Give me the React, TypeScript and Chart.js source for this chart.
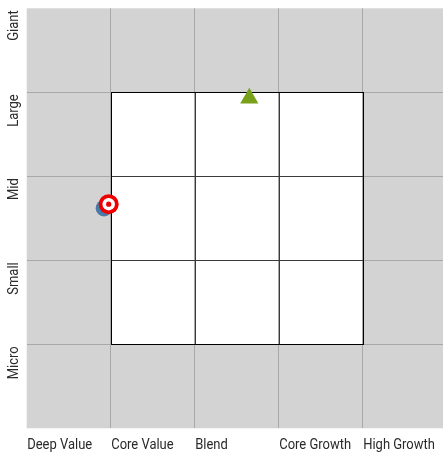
import React, { useEffect, useRef } from "react";
import { Chart, registerables } from "chart.js";

Chart.register(...registerables);

const styleLabels = ["Deep Value", "Core Value", "Blend", "Core Growth", "High Growth"];
const sizeLabels = ["Micro", "Small", "Mid", "Large", "Giant"];

// fund positions on the style box (x: style, y: size), in cell units
const benchmarkPoint = [{ x: 0.92, y: 2.62 }];
const fundPoint = [{ x: 0.976, y: 2.668 }];
const peerPoint = [{ x: 2.65, y: 3.93 }];

const FONT = "Roboto, 'Liberation Sans', sans-serif";
const SQUEEZE = 0.865;

const styleBoxPlugin = {
  id: "styleBox",
  beforeDraw(chart: any) {
    const { ctx, chartArea, scales } = chart;
    const xs = scales.x;
    const ys = scales.y;
    ctx.save();
    ctx.fillStyle = "#d3d3d3";
    ctx.fillRect(chartArea.left, chartArea.top, chartArea.right - chartArea.left, chartArea.bottom - chartArea.top);
    const x1 = xs.getPixelForValue(1);
    const x4 = xs.getPixelForValue(4);
    const y4 = ys.getPixelForValue(4);
    const y1 = ys.getPixelForValue(1);
    ctx.fillStyle = "#ffffff";
    ctx.fillRect(x1, y4, x4 - x1, y1 - y4);
    ctx.restore();
  },
  beforeDatasetsDraw(chart: any) {
    const { ctx, scales } = chart;
    const xs = scales.x;
    const ys = scales.y;
    const a = (p: number) => Math.round(p) + 0.5;
    const x1 = a(xs.getPixelForValue(1));
    const x4 = a(xs.getPixelForValue(4));
    const y4 = a(ys.getPixelForValue(4));
    const y1 = a(ys.getPixelForValue(1));
    ctx.save();
    ctx.lineWidth = 1;
    ctx.strokeStyle = "#3a3a3a";
    ctx.beginPath();
    for (const v of [2, 3]) {
      const px = a(xs.getPixelForValue(v));
      ctx.moveTo(px, y4);
      ctx.lineTo(px, y1);
      const py = a(ys.getPixelForValue(v));
      ctx.moveTo(x1, py);
      ctx.lineTo(x4, py);
    }
    ctx.stroke();
    ctx.strokeStyle = "#000000";
    ctx.strokeRect(x1, y4, x4 - x1, y1 - y4);
    ctx.restore();
  },
  afterDraw(chart: any) {
    const { ctx, scales, chartArea } = chart;
    const xs = scales.x;
    const ys = scales.y;
    ctx.save();
    ctx.font = `15px ${FONT}`;
    ctx.fillStyle = "#2a2a2a";
    ctx.textBaseline = "middle";
    ctx.textAlign = "left";
    styleLabels.forEach((lab, i) => {
      ctx.save();
      ctx.translate(xs.getPixelForValue(i) + 0.5, chartArea.bottom + 16.5);
      ctx.scale(SQUEEZE, 1);
      ctx.fillText(lab, 0, 0);
      ctx.restore();
    });
    sizeLabels.forEach((lab, i) => {
      const py = ys.getPixelForValue(i + 1) + 2;
      ctx.save();
      ctx.translate(14, py);
      ctx.rotate(-Math.PI / 2);
      ctx.scale(SQUEEZE, 1);
      ctx.textAlign = "right";
      ctx.textBaseline = "middle";
      ctx.fillText(lab, 0, 0);
      ctx.restore();
    });
    ctx.restore();
  },
};

export default function App() {
  const ref = useRef<HTMLCanvasElement>(null);
  useEffect(() => {
    document.body.style.margin = "0";
    const canvas = ref.current!;
    const gridOpts = {
      color: "#a8a8a8",
      lineWidth: 1,
      drawTicks: false,
    };
    const chart = new Chart(canvas, {
      type: "scatter",
      data: {
        datasets: [
          {
            data: fundPoint,
            pointRadius: 2.6,
            backgroundColor: "#ee0000",
            borderWidth: 0,
          },
          {
            data: fundPoint,
            pointRadius: 6.2,
            backgroundColor: "#ffffff",
            borderWidth: 0,
          },
          {
            data: fundPoint,
            pointRadius: 10,
            backgroundColor: "#ee0000",
            borderWidth: 0,
          },
          {
            data: benchmarkPoint,
            pointRadius: 8.3,
            backgroundColor: "#4a7ba6",
            borderWidth: 0,
          },
          {
            data: peerPoint,
            pointStyle: "triangle",
            pointRadius: 10.5,
            backgroundColor: "#78a01a",
            borderWidth: 0,
          },
        ],
      },
      options: {
        responsive: false,
        animation: false,
        events: [],
        layout: { autoPadding: false, padding: { left: 26.7, top: 8.3, right: 0, bottom: 25.7 } },
        plugins: { legend: { display: false }, tooltip: { enabled: false } },
        scales: {
          x: {
            type: "linear",
            min: 0,
            max: 4.956,
            afterBuildTicks: (s: any) => {
              s.ticks = [1, 2, 3, 4].map((v) => ({ value: v }));
            },
            ticks: { display: false },
            grid: gridOpts,
            border: { display: false },
          },
          y: {
            type: "linear",
            min: 0,
            max: 5,
            afterBuildTicks: (s: any) => {
              s.ticks = [1, 2, 3, 4].map((v) => ({ value: v }));
            },
            ticks: { display: false },
            grid: gridOpts,
            border: { display: false },
          },
        },
      },
      plugins: [styleBoxPlugin],
    } as any);
    return () => chart.destroy();
  }, []);
  return <canvas ref={ref} width={443} height={454} style={{ display: "block" }} />;
}
